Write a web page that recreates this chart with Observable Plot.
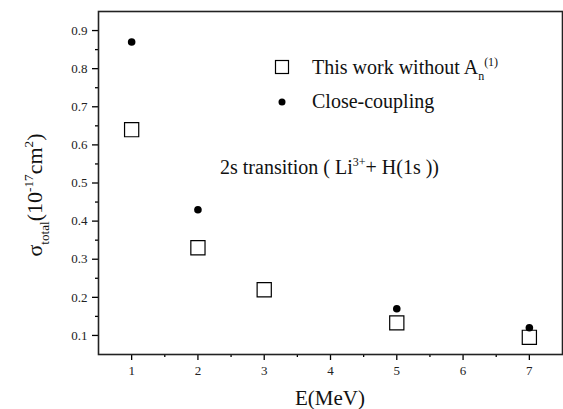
<!DOCTYPE html>
<html><head><meta charset="utf-8">
<script src="https://cdn.jsdelivr.net/npm/d3@7"></script>
<script src="https://cdn.jsdelivr.net/npm/@observablehq/plot@0.6"></script>
<style>
body{margin:0;background:#fff}
svg, svg text, svg tspan{font-family:"Liberation Serif","Times New Roman",serif !important;font-variant:normal !important}
</style>
</head><body><div id="chart"></div>
<script>
// data
const energyThisWork = [1, 2, 3, 5, 7];
const sigmaThisWork = [0.64, 0.33, 0.22, 0.133, 0.095];
const energyCC = [1, 2, 5, 7];
const sigmaCC = [0.87, 0.43, 0.17, 0.12];
const xMajorTicks = [1, 2, 3, 4, 5, 6, 7];
const xMinorTicks = [1.5, 2.5, 3.5, 4.5, 5.5, 6.5];
const yMajorTicks = [0.1, 0.2, 0.3, 0.4, 0.5, 0.6, 0.7, 0.8, 0.9];
const yMinorTicks = [0.15, 0.25, 0.35, 0.45, 0.55, 0.65, 0.75, 0.85];

const thisWork = energyThisWork.map((e, i) => ({e, s: sigmaThisWork[i]}));
const closeCoupling = energyCC.map((e, i) => ({e, s: sigmaCC[i]}));

const plot = Plot.plot({
  width: 563,
  height: 409,
  marginLeft: 98,
  marginRight: 1,
  marginTop: 11,
  marginBottom: 55,
  style: {fontFamily: '"Liberation Serif","Times New Roman",serif', fontSize: "13px", background: "white"},
  x: {domain: [0.5, 7.5]},
  y: {domain: [0.05, 0.95]},
  marks: [
    Plot.axisX(xMajorTicks, {tickSize: 6, tickPadding: 5, strokeWidth: 1.3, fill: "#222", label: null, tickFormat: d => String(d)}),
    Plot.axisX(xMinorTicks, {tickSize: 3, strokeWidth: 1.3, text: null, label: null}),
    Plot.axisY(yMajorTicks, {tickSize: 6, tickPadding: 5, strokeWidth: 1.3, fill: "#222", label: null, tickFormat: d => d.toFixed(1)}),
    Plot.axisY(yMinorTicks, {tickSize: 3, strokeWidth: 1.3, text: null, label: null}),
    Plot.frame({stroke: "#222", strokeWidth: 1.6}),
    Plot.dot(thisWork, {x: "e", y: "s", symbol: "square", r: 8, fill: "white", stroke: "black", strokeWidth: 1.2}),
    Plot.dot(closeCoupling, {x: "e", y: "s", r: 3.8, fill: "black", stroke: "none"})
  ]
});
document.getElementById("chart").appendChild(plot);

const svg = d3.select(plot);

// rich text helper (sub/superscripts)
function rich(g, x, y, size, parts, opts = {}) {
  const t = g.append("text")
    .attr("x", x).attr("y", y)
    .attr("font-size", size)
    .attr("fill", "#111")
    .attr("text-anchor", opts.anchor || "start");
  if (opts.rotate) t.attr("transform", `rotate(${opts.rotate},${x},${y})`);
  let cur = 0;
  for (const p of parts) {
    let off = 0, fs = size;
    if (p.sub) { off = size * 0.32; fs = size * 0.6; }
    if (p.sup) { off = -size * 0.42; fs = size * 0.6; }
    t.append("tspan").attr("dy", off - cur).attr("font-size", fs).attr("dx", p.dx || 0).text(p.t);
    cur = off;
  }
  return t;
}

const g = svg.append("g");

// legend
g.append("rect").attr("x", 275.5).attr("y", 60.5).attr("width", 13).attr("height", 13)
  .attr("fill", "white").attr("stroke", "black").attr("stroke-width", 1.2);
g.append("circle").attr("cx", 282).attr("cy", 102).attr("r", 3.5).attr("fill", "black");
rich(g, 312, 74, 20, [{t: "This work without A"}, {t: "n", sub: true}, {t: "(1)", sup: true}]);
rich(g, 312, 108, 20, [{t: "Close-coupling"}]);

// annotation
rich(g, 220, 174, 20, [{t: "2s transition ( Li"}, {t: "3+", sup: true}, {t: "+ H(1s ))"}]);

// axis titles
rich(g, 330, 405, 21, [{t: "E(MeV)"}], {anchor: "middle"});
rich(g, 42, 195, 22, [{t: "σ"}, {t: "total", sub: true}, {t: "(10"}, {t: "-17", sup: true}, {t: "cm"}, {t: "2", sup: true}, {t: ")"}], {anchor: "middle", rotate: -90});
</script>
</body></html>
